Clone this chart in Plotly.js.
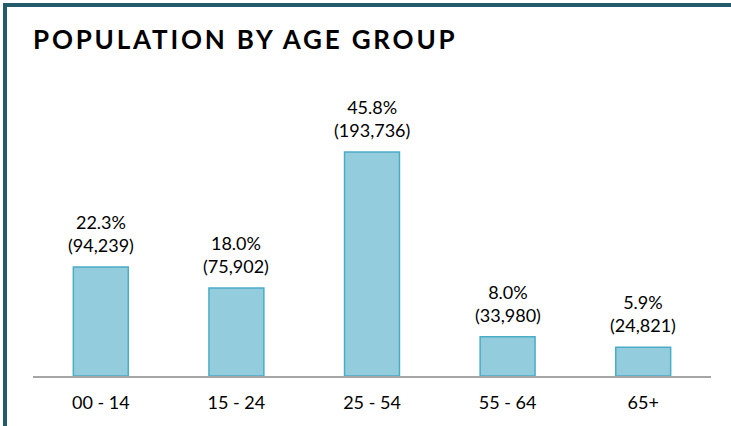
<!DOCTYPE html>
<html>
<head>
<meta charset="utf-8">
<script src="https://cdn.plot.ly/plotly-3.0.1.min.js"></script>
<style>
html,body{margin:0;padding:0;background:#fff;}
#wrap{position:relative;width:731px;height:426px;overflow:hidden;}
#chart{position:absolute;left:0;top:0;width:731px;height:426px;}
#frame{position:absolute;left:3px;top:3px;width:740px;height:440px;border-top:4px solid #245B6B;border-left:4px solid #245B6B;pointer-events:none;}
#chart .gtitle{letter-spacing:2.8px;}
</style>
</head>
<body>
<div id="wrap"><div id="chart"></div><div id="frame"></div></div>
<script>
var categories = ["00 - 14", "15 - 24", "25 - 54", "55 - 64", "65+"];
var percents = [22.3, 18.0, 45.8, 8.0, 5.9];
var counts = ["94,239", "75,902", "193,736", "33,980", "24,821"];

var FONT = "Lato, 'Open Sans', sans-serif";

var annotations = categories.map(function (c, i) {
  return {
    x: c, y: percents[i], xref: "x", yref: "y",
    yanchor: "bottom", yshift: 9, showarrow: false,
    text: percents[i].toFixed(1) + "%<br>(" + counts[i] + ")",
    font: {family: FONT, size: 18, color: "#000"}
  };
});

var data = [{
  type: "bar",
  x: categories,
  y: percents,
  marker: {color: "#93CDDD", line: {color: "#4BACC6", width: 1.5}},
  hoverinfo: "skip"
}];

var layout = {
  width: 731, height: 426,
  margin: {l: 33, r: 20, t: 58, b: 50},
  paper_bgcolor: "rgba(0,0,0,0)",
  plot_bgcolor: "rgba(0,0,0,0)",
  bargap: 0.595,
  showlegend: false,
  title: {
    text: "<b>POPULATION BY AGE GROUP</b>",
    font: {family: FONT, size: 26, color: "#000"},
    xref: "container", yref: "container",
    x: 33 / 731, xanchor: "left",
    y: 1 - 40 / 426, yanchor: "middle"
  },
  xaxis: {
    type: "category",
    showline: true, linecolor: "#A6A6A6", linewidth: 2,
    ticks: "", showgrid: false, zeroline: false,
    ticklabelstandoff: 9,
    tickfont: {family: FONT, size: 18, color: "#000"},
    fixedrange: true
  },
  yaxis: {
    visible: false, range: [0, 65], showgrid: false, zeroline: false, fixedrange: true
  },
  annotations: annotations
};

Plotly.newPlot("chart", data, layout, {displayModeBar: false, staticPlot: true});
</script>
</body>
</html>
